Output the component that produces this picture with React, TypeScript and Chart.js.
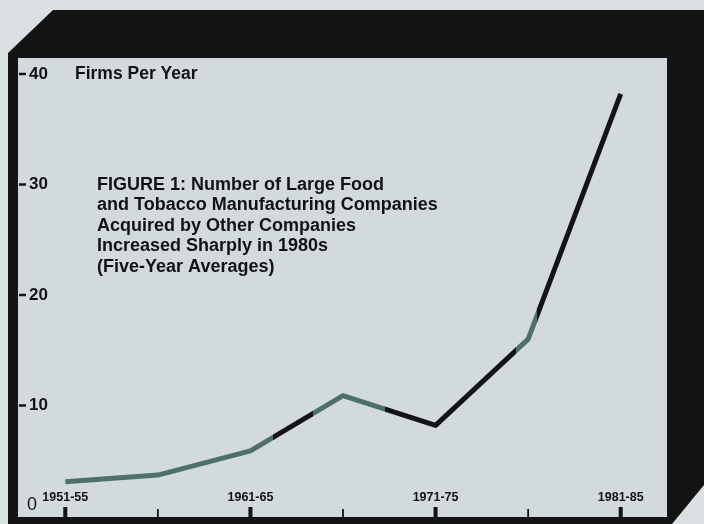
import React, { useEffect, useRef } from "react";
import { Chart, registerables } from "chart.js";

Chart.register(...registerables);

// ---------- data ----------
const periods = ["1951-55", "1956-60", "1961-65", "1966-70", "1971-75", "1976-80", "1981-85"];
const firmsPerYear = [3.1, 3.7, 5.9, 10.9, 8.2, 16.0, 38.2];
const yTickValues = [0, 10, 20, 30, 40];
const labeledPeriods = ["1951-55", "1961-65", "1971-75", "1981-85"];
const yAxisTitle = "Firms Per Year";
const titleLines = [
  "FIGURE 1: Number of Large Food",
  "and Tobacco Manufacturing Companies",
  "Acquired by Other Companies",
  "Increased Sharply in 1980s",
  "(Five-Year Averages)",
];

// ---------- style ----------
const OUTSIDE = "#dbe0e2";
const PANEL = "#d2dadd";
const FRAME = "#141414";
const TEAL = "#4e706c";
const INK = "#121212";
const FONT = "'Liberation Sans', Arial, Helvetica, sans-serif";
// colour bands of the printed line, in category units (style only)
const lineBands: [number, string][] = [
  [2.24, FRAME],
  [2.68, TEAL],
  [3.45, FRAME],
  [4.87, TEAL],
  [5.1, FRAME],
];

const framePlugin = {
  id: "frameDecor",
  beforeDraw(chart: any) {
    const c = chart.ctx as CanvasRenderingContext2D;
    c.save();
    c.fillStyle = OUTSIDE;
    c.fillRect(0, 0, chart.width, chart.height);
    c.fillStyle = FRAME;
    c.beginPath();
    c.moveTo(53, 10);
    c.lineTo(704, 10);
    c.lineTo(704, 485);
    c.lineTo(672, 524);
    c.lineTo(8, 524);
    c.lineTo(8, 53);
    c.closePath();
    c.fill();
    c.fillStyle = PANEL;
    c.fillRect(18, 58, 649, 459);
    c.restore();
  },
  afterDraw(chart: any) {
    const c = chart.ctx as CanvasRenderingContext2D;
    const xs = chart.scales.x;
    const ys = chart.scales.y;
    const area = chart.chartArea;
    c.save();
    c.fillStyle = INK;
    c.strokeStyle = INK;

    // y ticks + labels
    yTickValues.forEach((v) => {
      const y = ys.getPixelForValue(v);
      if (v === 0) {
        c.font = `18px ${FONT}`;
        c.textAlign = "left";
        c.textBaseline = "middle";
        c.fillText(String(v), area.left + 8, y - 11);
        return;
      }
      c.lineWidth = 2.5;
      c.beginPath();
      c.moveTo(area.left, y);
      c.lineTo(area.left + 7, y);
      c.stroke();
      c.font = `bold 17px ${FONT}`;
      c.textAlign = "left";
      c.textBaseline = "middle";
      c.fillText(String(v), area.left + 10, y);
    });

    // y axis title
    c.font = `bold 17.5px ${FONT}`;
    c.textAlign = "left";
    c.textBaseline = "middle";
    c.fillText(yAxisTitle, 75, ys.getPixelForValue(40));

    // x ticks + labels
    periods.forEach((p, i) => {
      const x = xs.getPixelForValue(i);
      const major = labeledPeriods.includes(p);
      c.lineWidth = major ? 4 : 1.8;
      c.beginPath();
      c.moveTo(x, area.bottom - (major ? 9 : 7));
      c.lineTo(x, area.bottom + 2);
      c.stroke();
      if (major) {
        c.font = `bold 12.5px ${FONT}`;
        c.textAlign = "center";
        c.textBaseline = "middle";
        c.fillText(p, x, area.bottom - 18);
      }
    });

    // figure title
    c.font = `bold 18px ${FONT}`;
    c.textAlign = "left";
    c.textBaseline = "alphabetic";
    titleLines.forEach((t, i) => {
      c.fillText(t, 97, 189.5 + i * 20.6);
    });
    c.restore();
  },
};

function lineColor(ctx: any) {
  const chart = ctx.chart;
  const area = chart.chartArea;
  const xs = chart.scales && chart.scales.x;
  if (!area || !xs) return TEAL;
  const w = area.right - area.left;
  const g = chart.ctx.createLinearGradient(area.left, 0, area.right, 0);
  let prev = TEAL;
  g.addColorStop(0, TEAL);
  lineBands.forEach(([pos, col]) => {
    const f = Math.min(1, Math.max(0, (xs.getPixelForValue(pos) - area.left) / w));
    g.addColorStop(f, prev);
    g.addColorStop(f, col);
    prev = col;
  });
  g.addColorStop(1, prev);
  return g;
}

export default function App() {
  const ref = useRef<HTMLCanvasElement | null>(null);
  useEffect(() => {
    if (!ref.current) return;
    const chart = new Chart(ref.current, {
      type: "line",
      data: {
        labels: periods,
        datasets: [
          {
            data: firmsPerYear,
            borderColor: lineColor as any,
            borderWidth: 5,
            borderCapStyle: "butt",
            borderJoinStyle: "round",
            pointRadius: 0,
            tension: 0,
            fill: false,
          },
        ],
      },
      options: {
        animation: false,
        responsive: false,
        devicePixelRatio: 1,
        layout: { padding: { left: 19, right: 37, top: 74, bottom: 8 } },
        plugins: { legend: { display: false }, tooltip: { enabled: false }, title: { display: false } },
        scales: {
          x: { type: "category", offset: true, display: false },
          y: { min: 0, max: 40, display: false },
        },
      },
      plugins: [framePlugin],
    });
    return () => chart.destroy();
  }, []);
  return (
    <div style={{ position: "absolute", left: 0, top: 0, width: 704, height: 524 }}>
      <canvas ref={ref} width={704} height={524} style={{ display: "block" }} />
    </div>
  );
}
